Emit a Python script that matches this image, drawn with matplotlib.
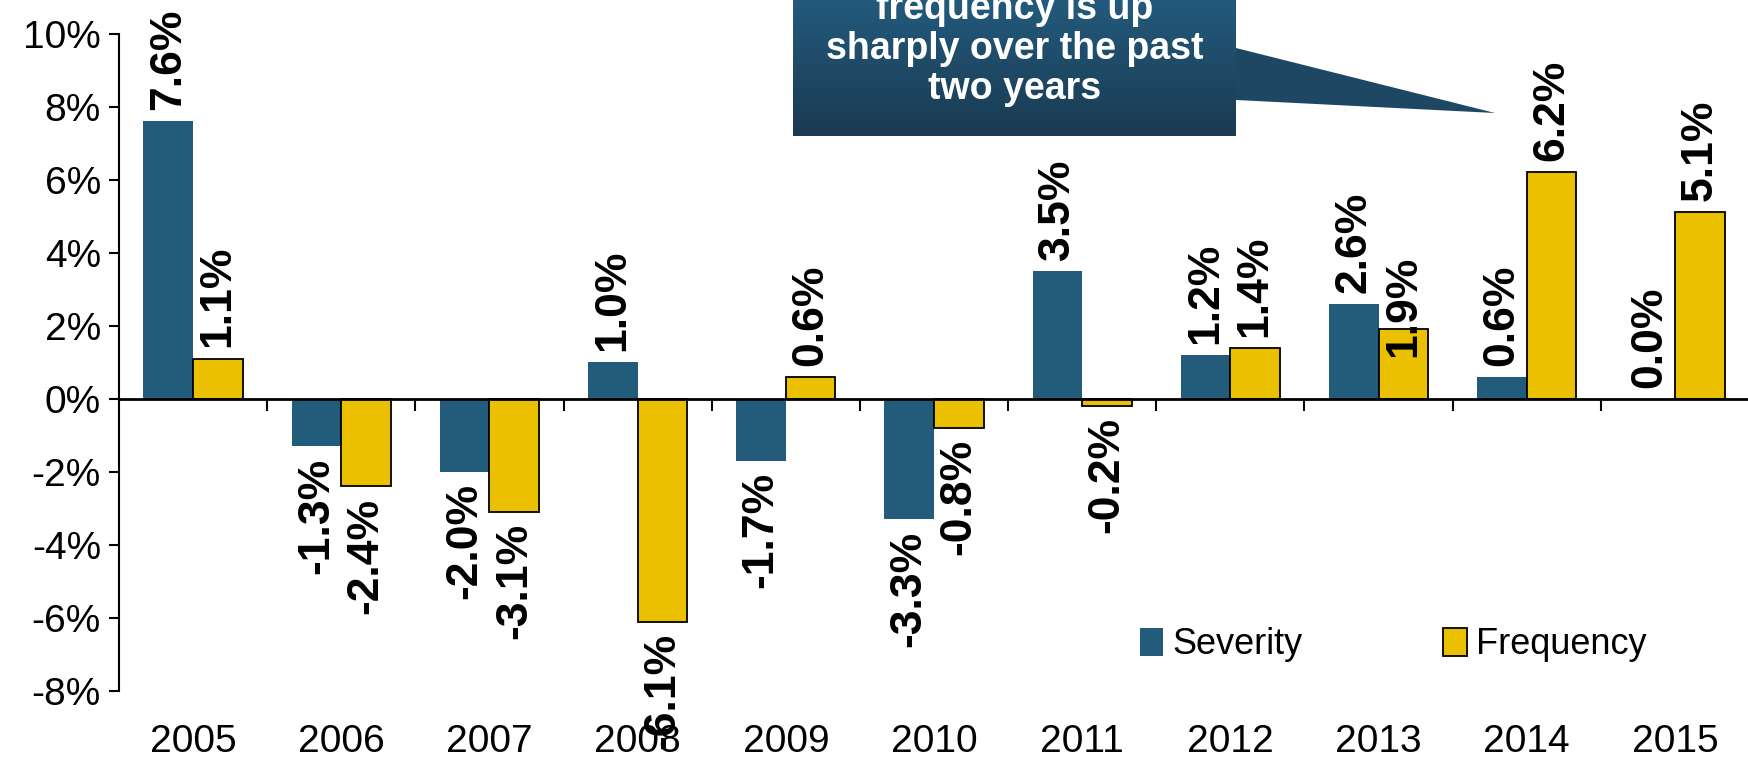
import matplotlib
matplotlib.use("Agg")
import matplotlib.pyplot as plt
import numpy as np
from matplotlib.patches import Polygon
from matplotlib.colors import LinearSegmentedColormap

# data (annual % change)
years = ["2005", "2006", "2007", "2008", "2009", "2010",
         "2011", "2012", "2013", "2014", "2015"]
severity = [7.6, -1.3, -2.0, 1.0, -1.7, -3.3, 3.5, 1.2, 2.6, 0.6, 0.0]
frequency = [1.1, -2.4, -3.1, -6.1, 0.6, -0.8, -0.2, 1.4, 1.9, 6.2, 5.1]
yticks = [-8, -6, -4, -2, 0, 2, 4, 6, 8, 10]
callout_lines = ["frequency is up", "sharply over the past", "two years"]

sev_color = "#235B7A"
freq_color = "#EBC000"
W, H = 1749, 765

plt.rcParams['font.family'] = ['Liberation Sans', 'DejaVu Sans']

fig = plt.figure(figsize=(W / 100, H / 100), dpi=100)
ax = fig.add_axes([119 / W, 1 - 691 / H, 1 - 119 / W, (691 - 33.5) / H])

x = np.arange(len(years))
bw = 0.335
ax.bar(x - bw / 2, severity, bw, color=sev_color, label="Severity", zorder=2)
ax.bar(x + bw / 2, frequency, bw, color=freq_color, edgecolor="black",
       linewidth=1.3, label="Frequency", zorder=2)

# value labels, rotated like the original
for vals, off in [(severity, -bw / 2), (frequency, bw / 2)]:
    for i, v in enumerate(vals):
        dy = 8 if v >= 0 else -8
        if vals is frequency and years[i] == "2013":
            dy = -20  # this label sits on the bar in the original
        ax.annotate(f"{v:.1f}%", (x[i] + off, v), xytext=(0, dy),
                    textcoords="offset points", rotation=90,
                    ha="center", va="bottom" if v >= 0 else "top",
                    fontsize=32, fontweight="bold", clip_on=False,
                    annotation_clip=False, zorder=5)

ax.set_xlim(-0.5, len(years) - 0.5)
ax.set_ylim(-8, 10)
ax.set_yticks(yticks)
ax.set_yticklabels([f"{t}%" for t in yticks], fontsize=28)
ax.set_xticks(x)
ax.set_xticklabels(years, fontsize=28)
ax.tick_params(axis="x", length=0, pad=24)
ax.tick_params(axis="y", length=7, width=1.5, direction="out", pad=6)

for s in ["top", "right", "bottom"]:
    ax.spines[s].set_visible(False)
ax.spines["left"].set_linewidth(1.5)
ax.axhline(0, color="black", linewidth=2, zorder=3)
ax.vlines(x[:-1] + 0.5, -0.33, 0, color="black", linewidth=1.5, zorder=3)

ax.legend(loc="center left", bbox_to_anchor=(0.615, 0.07), ncol=2,
          frameon=False, borderpad=0, handlelength=0.65, handleheight=0.85,
          handletextpad=0.25, columnspacing=3.9,
          prop={"size": 26})

# callout box with gradient
bx0, bx1, by1 = 793, 1236, 136
cax = fig.add_axes([bx0 / W, 1 - by1 / H, (bx1 - bx0) / W, by1 / H])
grad = np.linspace(0, 1, 100).reshape(-1, 1)
cmap = LinearSegmentedColormap.from_list("box", ["#235A7C", "#1A3A51"])
cax.imshow(grad, aspect="auto", cmap=cmap, extent=[0, 1, 0, 1], origin="upper")
cax.axis("off")

pts = [(1236, 48), (1495, 113), (1236, 100)]
fig.patches.append(Polygon([(px / W, 1 - py / H) for px, py in pts],
                           closed=True, transform=fig.transFigure,
                           facecolor="#1E4764", edgecolor="none"))

for k, line in enumerate(callout_lines):
    fig.text((bx0 + bx1) / 2 / W, 1 - (9 + 40 * k) / H, line, color="white",
             fontsize=27, fontweight="bold", ha="center", va="center")

fig.savefig("out.png", dpi=100)
